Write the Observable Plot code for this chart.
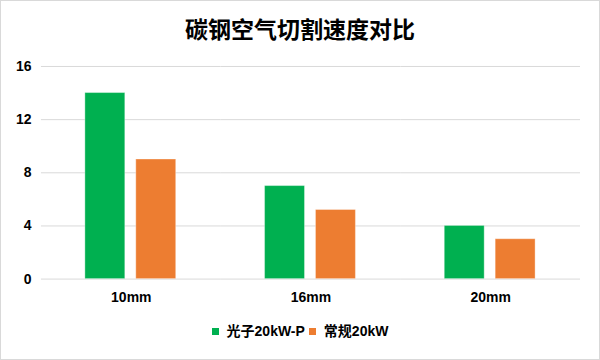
<!DOCTYPE html>
<html>
<head>
<meta charset="utf-8">
<script src="https://cdn.jsdelivr.net/npm/d3@7"></script>
<script src="https://cdn.jsdelivr.net/npm/@observablehq/plot@0.6"></script>
<style>
  html, body { margin: 0; padding: 0; background: #fff; }
  #frame { position: relative; width: 600px; height: 360px; box-sizing: border-box; border: 1px solid #d9d9d9; overflow: hidden; }
  #title { position: absolute; left: 0; top: 13px; width: 100%; text-align: center; font: bold 23px/28px "Noto Sans CJK SC", sans-serif; color: #000; }
  #chart { position: absolute; left: -1px; top: 49px; }
  #legend { position: absolute; left: 0; top: 321px; width: 100%; display: flex; justify-content: center; align-items: center; font: bold 14px/18px "Liberation Sans", "Noto Sans CJK SC", sans-serif; color: #000; }
  .item { display: flex; align-items: center; margin: 0 2px; }
  .sw { width: 7px; height: 7px; margin-right: 8px; }
</style>
</head>
<body>
<div id="frame">
  <div id="title">碳钢空气切割速度对比</div>
  <div id="chart"></div>
  <div id="legend"></div>
</div>
<script>
const categories = ["10mm", "16mm", "20mm"];
const seriesNames = ["光子20kW-P", "常规20kW"];
const photonValues = [14, 7, 4];
const regularValues = [9, 5.2, 3];
const colors = ["#00b050", "#ed7d31"];
const yTicks = [0, 4, 8, 12, 16];

const rows = [];
categories.forEach((c, i) => {
  rows.push({thickness: c, series: seriesNames[0], value: photonValues[i]});
  rows.push({thickness: c, series: seriesNames[1], value: regularValues[i]});
});

const fontAxis = "Liberation Sans, Arial, sans-serif";

const plot = Plot.plot({
  width: 600,
  height: 263,
  marginTop: 16,
  marginBottom: 34,
  marginLeft: 41,
  marginRight: 19,
  style: {fontFamily: fontAxis, fontSize: "14px", fontWeight: "bold", color: "#000", background: "white"},
  fx: {domain: categories, paddingInner: 0, paddingOuter: 0, label: null},
  x: {domain: seriesNames, paddingInner: 0.21, paddingOuter: 0.84, axis: null},
  y: {domain: [0, 16], label: null},
  color: {domain: seriesNames, range: colors},
  marks: [
    Plot.gridY(yTicks, {stroke: "#d9d9d9", strokeOpacity: 1, strokeWidth: 1}),
    Plot.axisY({ticks: yTicks, tickSize: 0, tickPadding: 10, label: null, fontSize: 14, fontWeight: "bold"}),
    Plot.axisFx({anchor: "bottom", tickSize: 0, tickPadding: 13, label: null, fontSize: 14, fontWeight: "bold"}),
    Plot.barY(rows, {fx: "thickness", x: "series", y: "value", fill: "series", stroke: "white", strokeOpacity: 0.35, strokeWidth: 1})
  ]
});
document.getElementById("chart").appendChild(plot);

const legend = document.getElementById("legend");
seriesNames.forEach((s, i) => {
  const it = document.createElement("div");
  it.className = "item";
  const sw = document.createElement("div");
  sw.className = "sw";
  sw.style.background = colors[i];
  const tx = document.createElement("span");
  tx.textContent = s;
  it.appendChild(sw);
  it.appendChild(tx);
  legend.appendChild(it);
});
</script>
</body>
</html>
